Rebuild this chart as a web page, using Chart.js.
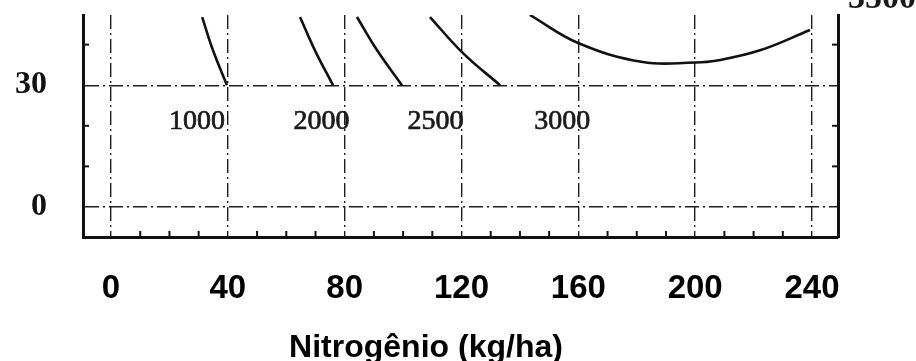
<!DOCTYPE html>
<html>
<head>
<meta charset="utf-8">
<script src="https://cdn.jsdelivr.net/npm/chart.js@4.4.0/dist/chart.umd.min.js"></script>
<style>
  html, body { margin: 0; background: #fff; }
</style>
</head>
<body>
<canvas id="grafico" width="916" height="361"></canvas>
<script>
// eixo x: nitrogênio (kg/ha)
const xTicks = [0, 40, 80, 120, 160, 200, 240];
const xMinor = [10, 20, 30, 50, 60, 70, 90, 100, 110, 130, 140, 150, 170, 180, 190, 210, 220, 230];
const yTicks = [0, 30];
const yMinor = [10, 20, 40];

// isoquantas
const n1000 = [31.2, 34.9, 39.7];
const v1000 = [46.8, 38.6, 30];
const n2000 = [64.7, 69.8, 76.0];
const v2000 = [46.8, 38.6, 30];
const n2500 = [84.2, 91.1, 99.6];
const v2500 = [46.8, 38.6, 30];
const n3000 = [109.2, 120.5, 133.2];
const v3000 = [46.8, 37.9, 30];
const n3500 = [143.4, 159.9, 182.1, 199.9, 207.5, 222.2, 239.3];
const v3500 = [47.3, 40.4, 35.7, 35.6, 36.1, 38.6, 43.6];

const rotulos = ['1000', '2000', '2500', '3000'];
const rotuloX = [29.4, 72.1, 111.1, 154.5];
const rotuloY = 21.1;

const pares = (xs, ys) => xs.map((x, i) => ({ x: x, y: ys[i] }));

function curva(xs, ys) {
    return {
        data: pares(xs, ys),
        showLine: true,
        borderColor: '#111',
        borderWidth: 2.6,
        pointRadius: 0,
        tension: 0.4,
        fill: false
    };
}

const tracoGrade = [14, 4, 2, 4];

function semFolga(s) {
    s.paddingTop = 0; s.paddingBottom = 0;
    s.paddingLeft = 0; s.paddingRight = 0;
}

const extras = {
    id: 'extras',
    afterDraw(chart) {
        const c = chart.ctx;
        const x = chart.scales.x;
        const y = chart.scales.y;
        const a = chart.chartArea;
        c.save();
        c.strokeStyle = '#111';
        c.lineWidth = 2;
        xMinor.forEach(v => {
            const px = x.getPixelForValue(v);
            c.beginPath(); c.moveTo(px, a.bottom); c.lineTo(px, a.bottom - 6); c.stroke();
        });
        yMinor.forEach(v => {
            const py = y.getPixelForValue(v);
            c.beginPath(); c.moveTo(a.left, py); c.lineTo(a.left + 6, py); c.stroke();
            c.beginPath(); c.moveTo(a.right, py); c.lineTo(a.right - 6, py); c.stroke();
        });

        c.fillStyle = '#1a1a1a';
        c.strokeStyle = '#1a1a1a';
        c.lineWidth = 0.7;
        c.font = '28px "Liberation Serif"';
        c.textAlign = 'center';
        c.textBaseline = 'middle';
        rotulos.forEach((t, i) => {
            const px = x.getPixelForValue(rotuloX[i]);
            const py = y.getPixelForValue(rotuloY);
            c.fillText(t, px, py);
            c.strokeText(t, px, py);
        });

        // rótulo cortado no topo da figura
        c.font = 'bold 34px "Liberation Serif"';
        c.textAlign = 'left';
        c.textBaseline = 'alphabetic';
        c.fillText('3500', a.right + 10, 8);

        c.fillStyle = '#000';
        c.font = 'bold 32px "Liberation Sans"';
        c.textAlign = 'center';
        c.fillText('Nitrogênio (kg/ha)', 426, 357);
        c.restore();
    }
};

new Chart(document.getElementById('grafico').getContext('2d'), {
    type: 'scatter',
    data: {
        datasets: [
            curva(n1000, v1000),
            curva(n2000, v2000),
            curva(n2500, v2500),
            curva(n3000, v3000),
            curva(n3500, v3500)
        ]
    },
    options: {
        responsive: false,
        animation: false,
        layout: { padding: { left: 0, right: 78, top: 15, bottom: 0 } },
        plugins: { legend: { display: false }, tooltip: { enabled: false } },
        scales: {
            x: {
                type: 'linear',
                min: -9.6,
                max: 248.9,
                afterBuildTicks: s => { s.ticks = xTicks.map(v => ({ value: v })); },
                afterFit: s => { s.height = 124; semFolga(s); },
                ticks: {
                    autoSkip: false,
                    maxRotation: 0,
                    padding: 32,
                    color: '#000',
                    font: { family: 'Liberation Sans', weight: 'bold', size: 33 }
                },
                grid: { color: '#1c1c28', lineWidth: 1.4, drawTicks: false },
                border: { width: 3, color: '#111', dash: tracoGrade }
            },
            y: {
                type: 'linear',
                min: -7.4,
                max: 47.3,
                afterBuildTicks: s => { s.ticks = yTicks.map(v => ({ value: v })); },
                afterFit: s => { s.width = 83; semFolga(s); },
                ticks: {
                    padding: 36,
                    color: '#111',
                    font: { family: 'Liberation Serif', weight: 'bold', size: 32 }
                },
                grid: { color: '#1c1c28', lineWidth: 1.4, drawTicks: false },
                border: { width: 3, color: '#111', dash: tracoGrade }
            },
            yR: {
                type: 'linear',
                position: 'right',
                min: -7.4,
                max: 47.3,
                afterBuildTicks: s => { s.ticks = []; },
                afterFit: s => { s.width = 0; semFolga(s); },
                ticks: { display: false },
                grid: { display: false },
                border: { width: 3, color: '#111' }
            }
        }
    },
    plugins: [extras]
});
</script>
</body>
</html>
